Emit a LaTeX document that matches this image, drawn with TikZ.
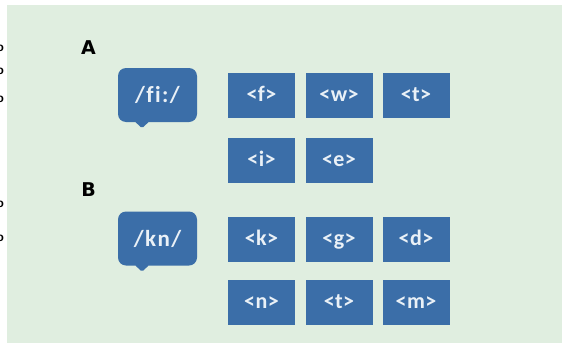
\documentclass[tikz,border=0pt]{standalone}
\usepackage{fontspec}
\setmainfont{Liberation Sans}
\newfontfamily\labelfont[Ligatures=NoCommon, LetterSpace=6]{Carlito}
\newfontfamily\tilefont[LetterSpace=2]{Carlito}
\newfontfamily\headfont{DejaVu Sans}
\definecolor{panelbg}{HTML}{E0EEE0}
\definecolor{tileblue}{HTML}{3B6EA8}
\definecolor{tiletext}{HTML}{EAF1F7}
\tikzset{
  tile/.style={fill=tileblue, minimum width=67pt, minimum height=45pt, inner sep=0pt,
    text=tiletext, text height=12.5pt, text depth=0pt,
    font=\tilefont\bfseries\fontsize{22}{22}\selectfont},
  bubble/.style={fill=tileblue, rounded corners=8pt, minimum width=79pt, minimum height=54pt,
    inner sep=0pt, text=tiletext, font=\labelfont\bfseries\fontsize{23}{23}\selectfont},
  heading/.style={font=\headfont\bfseries\fontsize{19}{19}\selectfont, inner sep=0pt},
  marker/.style={font=\bfseries\fontsize{12}{12}\selectfont, inner sep=0pt}
}
\begin{document}
\begin{tikzpicture}[x=1pt,y=-1pt]
\useasboundingbox (0,0) rectangle (562,343);
% panel
\fill[panelbg] (7,5) rectangle (562,343);
% list markers at the left edge
\foreach \yy [count=\i] in {48,71,99,204,238}
  \node[marker] (m\i) at (0.3,\yy) {o};
% section A
\node[heading] (hA) at (88.5,48) {A};
\node[bubble] (fi) at (157.5,95) {/fi:/};
\fill[tileblue, rounded corners=1.5pt] ([xshift=-23pt,yshift=1pt]fi.south) -- ([xshift=-15.5pt,yshift=-6pt]fi.south)
  -- ([xshift=-8pt,yshift=1pt]fi.south) -- cycle;
\node[tile] (f) at (261.5,95) {<f>};
\node[tile] (w) at (339,95) {<w>};
\node[tile] (tA) at (416,95) {<t>};
\node[tile] (i) at (261.5,160) {<i>};
\node[tile] (e) at (339,160) {<e>};
% section B
\node[heading] (hB) at (88.5,190) {B};
\node[bubble] (kn) at (157.5,238.5) {/kn/};
\fill[tileblue, rounded corners=1.5pt] ([xshift=-23pt,yshift=1pt]kn.south) -- ([xshift=-15.5pt,yshift=-6pt]kn.south)
  -- ([xshift=-8pt,yshift=1pt]kn.south) -- cycle;
\node[tile] (k) at (261.5,239) {<k>};
\node[tile] (g) at (339,239) {<g>};
\node[tile] (d) at (416,239) {<d>};
\node[tile] (n) at (261.5,302.5) {<n>};
\node[tile] (tB) at (339,302.5) {<t>};
\node[tile] (m) at (416,302.5) {<m>};
\end{tikzpicture}
\end{document}
